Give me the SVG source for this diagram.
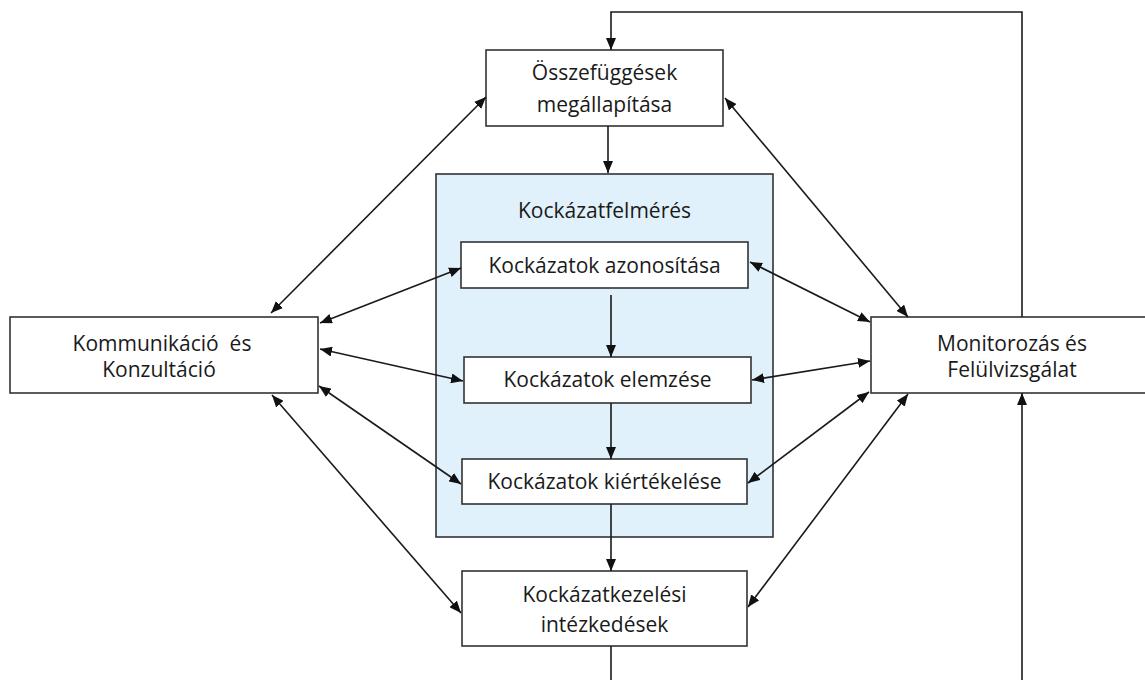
<svg xmlns="http://www.w3.org/2000/svg" width="1145" height="680" viewBox="0 0 1145 680">
<defs>
<style>
.box{fill:#ffffff;stroke:#333333;stroke-width:1.6}
.group{fill:#e1f1fc;stroke:#333333;stroke-width:1.6}
.t{font-family:"Open Sans","Noto Sans","DejaVu Sans",sans-serif;font-size:21px;fill:#1a1a1a;text-anchor:middle}
.c{fill:none;stroke:#1a1a1a;stroke-width:1.6}
.a{marker-end:url(#ah)}
.d{marker-start:url(#ah);marker-end:url(#ah)}
</style>
<marker id="ah" markerUnits="userSpaceOnUse" markerWidth="12" markerHeight="10" refX="12" refY="5" orient="auto-start-reverse">
<path d="M0,0 L12,5 L0,10 z" fill="#111111"/>
</marker>
</defs>
<rect width="1145" height="680" fill="#ffffff"/>
<g id="node-kockazatfelmeres">
<rect class="group" x="436" y="174" width="337" height="363"/>
<text class="t" x="604.5" y="218">Kockázatfelmérés</text>
</g>
<g id="node-osszefuggesek">
<rect class="box" x="486" y="50" width="237" height="76"/>
<text class="t" x="604.5" y="80">Összefüggések</text>
<text class="t" x="604.5" y="112">megállapítása</text>
</g>
<g id="node-azonositas">
<rect class="box" x="461" y="242" width="287" height="46"/>
<text class="t" x="604.5" y="273">Kockázatok azonosítása</text>
</g>
<g id="node-elemzes">
<rect class="box" x="464" y="357" width="287" height="46"/>
<text class="t" x="607.5" y="387">Kockázatok elemzése</text>
</g>
<g id="node-kiertekeles">
<rect class="box" x="462" y="459" width="285" height="45"/>
<text class="t" x="604.5" y="489">Kockázatok kiértékelése</text>
</g>
<g id="node-kezeles">
<rect class="box" x="462" y="571" width="285" height="75"/>
<text class="t" x="604.5" y="602">Kockázatkezelési</text>
<text class="t" x="604.5" y="632">intézkedések</text>
</g>
<g id="node-kommunikacio">
<rect class="box" x="10" y="317" width="308" height="76"/>
<text class="t" x="162" y="351" xml:space="preserve">Kommunikáció  és</text>
<text class="t" x="159" y="377">Konzultáció</text>
</g>
<g id="node-monitorozas">
<rect class="box" x="871" y="317" width="282" height="76"/>
<text class="t" x="1012" y="351">Monitorozás és</text>
<text class="t" x="1012" y="377">Felülvizsgálat</text>
</g>
<g id="connectors">
<polyline class="c a" points="1022,317 1022,12 611,12 611,50"/>
<line class="c a" x1="608" y1="126" x2="608" y2="173"/>
<line class="c a" x1="611" y1="295" x2="611" y2="357"/>
<line class="c a" x1="611" y1="403" x2="611" y2="459"/>
<line class="c a" x1="611" y1="504" x2="611" y2="571"/>
<line class="c" x1="611" y1="646" x2="611" y2="680"/>
<line class="c a" x1="1022" y1="680" x2="1022" y2="393"/>
<line class="c d" x1="271" y1="313" x2="486" y2="97"/>
<line class="c d" x1="320" y1="323" x2="461" y2="268"/>
<line class="c d" x1="320" y1="349" x2="463" y2="381"/>
<line class="c d" x1="319" y1="386" x2="461" y2="484"/>
<line class="c d" x1="272" y1="395" x2="461" y2="613"/>
<line class="c d" x1="725" y1="98" x2="908" y2="317"/>
<line class="c d" x1="750" y1="262" x2="870" y2="322"/>
<line class="c d" x1="752" y1="380" x2="870" y2="361"/>
<line class="c d" x1="748" y1="483" x2="869" y2="392"/>
<line class="c d" x1="748" y1="607" x2="908" y2="394"/>
</g>
</svg>
